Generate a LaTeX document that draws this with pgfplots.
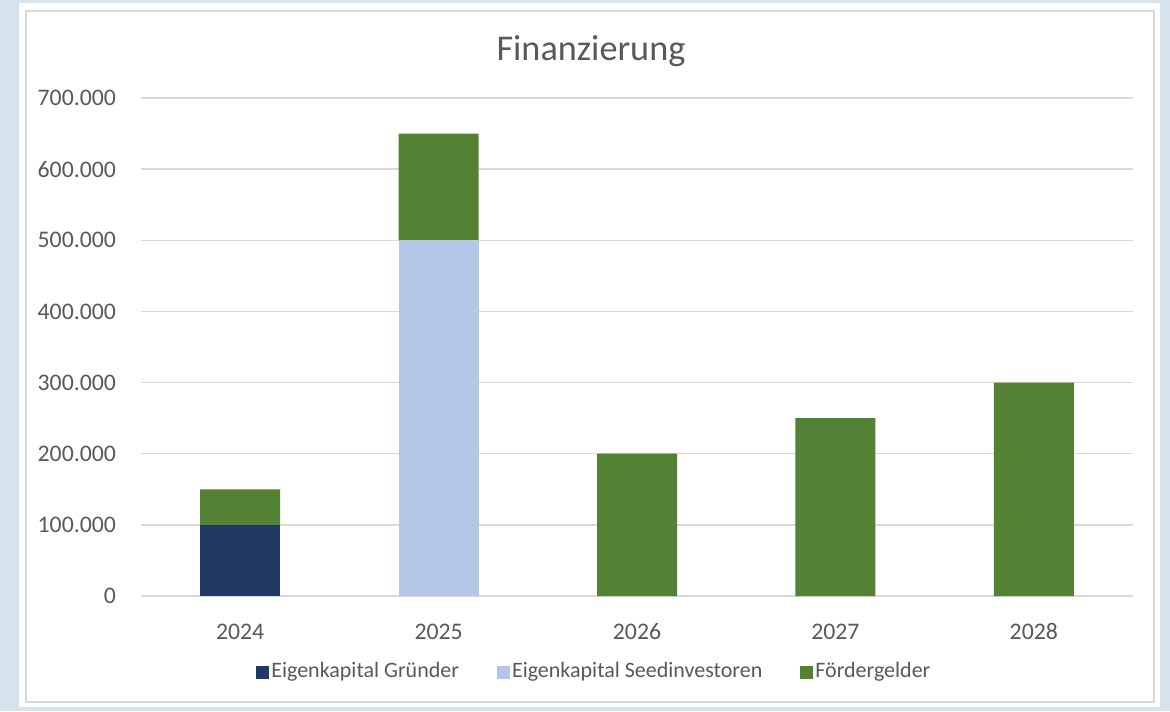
\documentclass[border=0pt]{standalone}
\usepackage{pgfplots}
\pgfplotsset{compat=1.18}
\usepackage{fontspec}
\setmainfont{Carlito}
\definecolor{bgblue}{HTML}{D6E3EC}
\definecolor{gridgray}{HTML}{D9D9D9}
\definecolor{txtgray}{HTML}{595959}
\definecolor{navy}{HTML}{203864}
\definecolor{lightblue}{HTML}{B4C7E7}
\definecolor{green}{HTML}{548235}
\begin{document}
\begin{tikzpicture}
\fill[bgblue] (0pt,0pt) rectangle (468pt,-284.4pt);
\fill[white] (7.6pt,-1.2pt) rectangle (464pt,-282.8pt);
\draw[gridgray,line width=0.6pt] (10.4pt,-4.4pt) rectangle (461.6pt,-280.8pt);
\node[anchor=base,text=txtgray,font=\fontsize{14.5}{17}\selectfont,inner sep=0pt] at (236.4pt,-24pt) {Finanzierung};
\begin{axis}[
  at={(56.4pt,-238.4pt)}, anchor=south west,
  scale only axis, width=396.8pt, height=199.2pt,
  ybar stacked, bar width=32pt,
  xmin=-0.5, xmax=4.5, ymin=0, ymax=700000,
  xtick={0,1,2,3,4}, xticklabels={2024,2025,2026,2027,2028},
  ytick={0,100000,200000,300000,400000,500000,600000,700000},
  scaled y ticks=false,
  /pgf/number format/.cd, fixed, 1000 sep={.}, assume math mode=true, /pgfplots/.cd,
  major tick length=0pt,
  axis line style={draw=none},
  ymajorgrids, grid style={gridgray, line width=0.6pt},
  tick label style={text=txtgray, font=\fontsize{9.5}{11}\selectfont},
  yticklabel style={xshift=-6.5pt},
  xticklabel style={yshift=-7.5pt},
  legend columns=-1,
  legend style={at={(0.457,-0.153)}, anchor=center, draw=none, fill=none,
    font=\fontsize{8.8}{10}\selectfont, text=txtgray,
    nodes={inner sep=1pt},
    /tikz/every even column/.append style={column sep=14pt}},
  legend image code/.code={\fill[#1] (0pt,-2.6pt) rectangle (5.2pt,2.6pt);},
  clip=false,
]
\addplot[fill=navy, draw=none] coordinates {(0,100000) (1,0) (2,0) (3,0) (4,0)};
\addlegendentry{Eigenkapital Gründer}
\addplot[fill=lightblue, draw=none] coordinates {(0,0) (1,500000) (2,0) (3,0) (4,0)};
\addlegendentry{Eigenkapital Seedinvestoren}
\addplot[fill=green, draw=none] coordinates {(0,50000) (1,150000) (2,200000) (3,250000) (4,300000)};
\addlegendentry{Fördergelder}
\end{axis}
\end{tikzpicture}
\end{document}
